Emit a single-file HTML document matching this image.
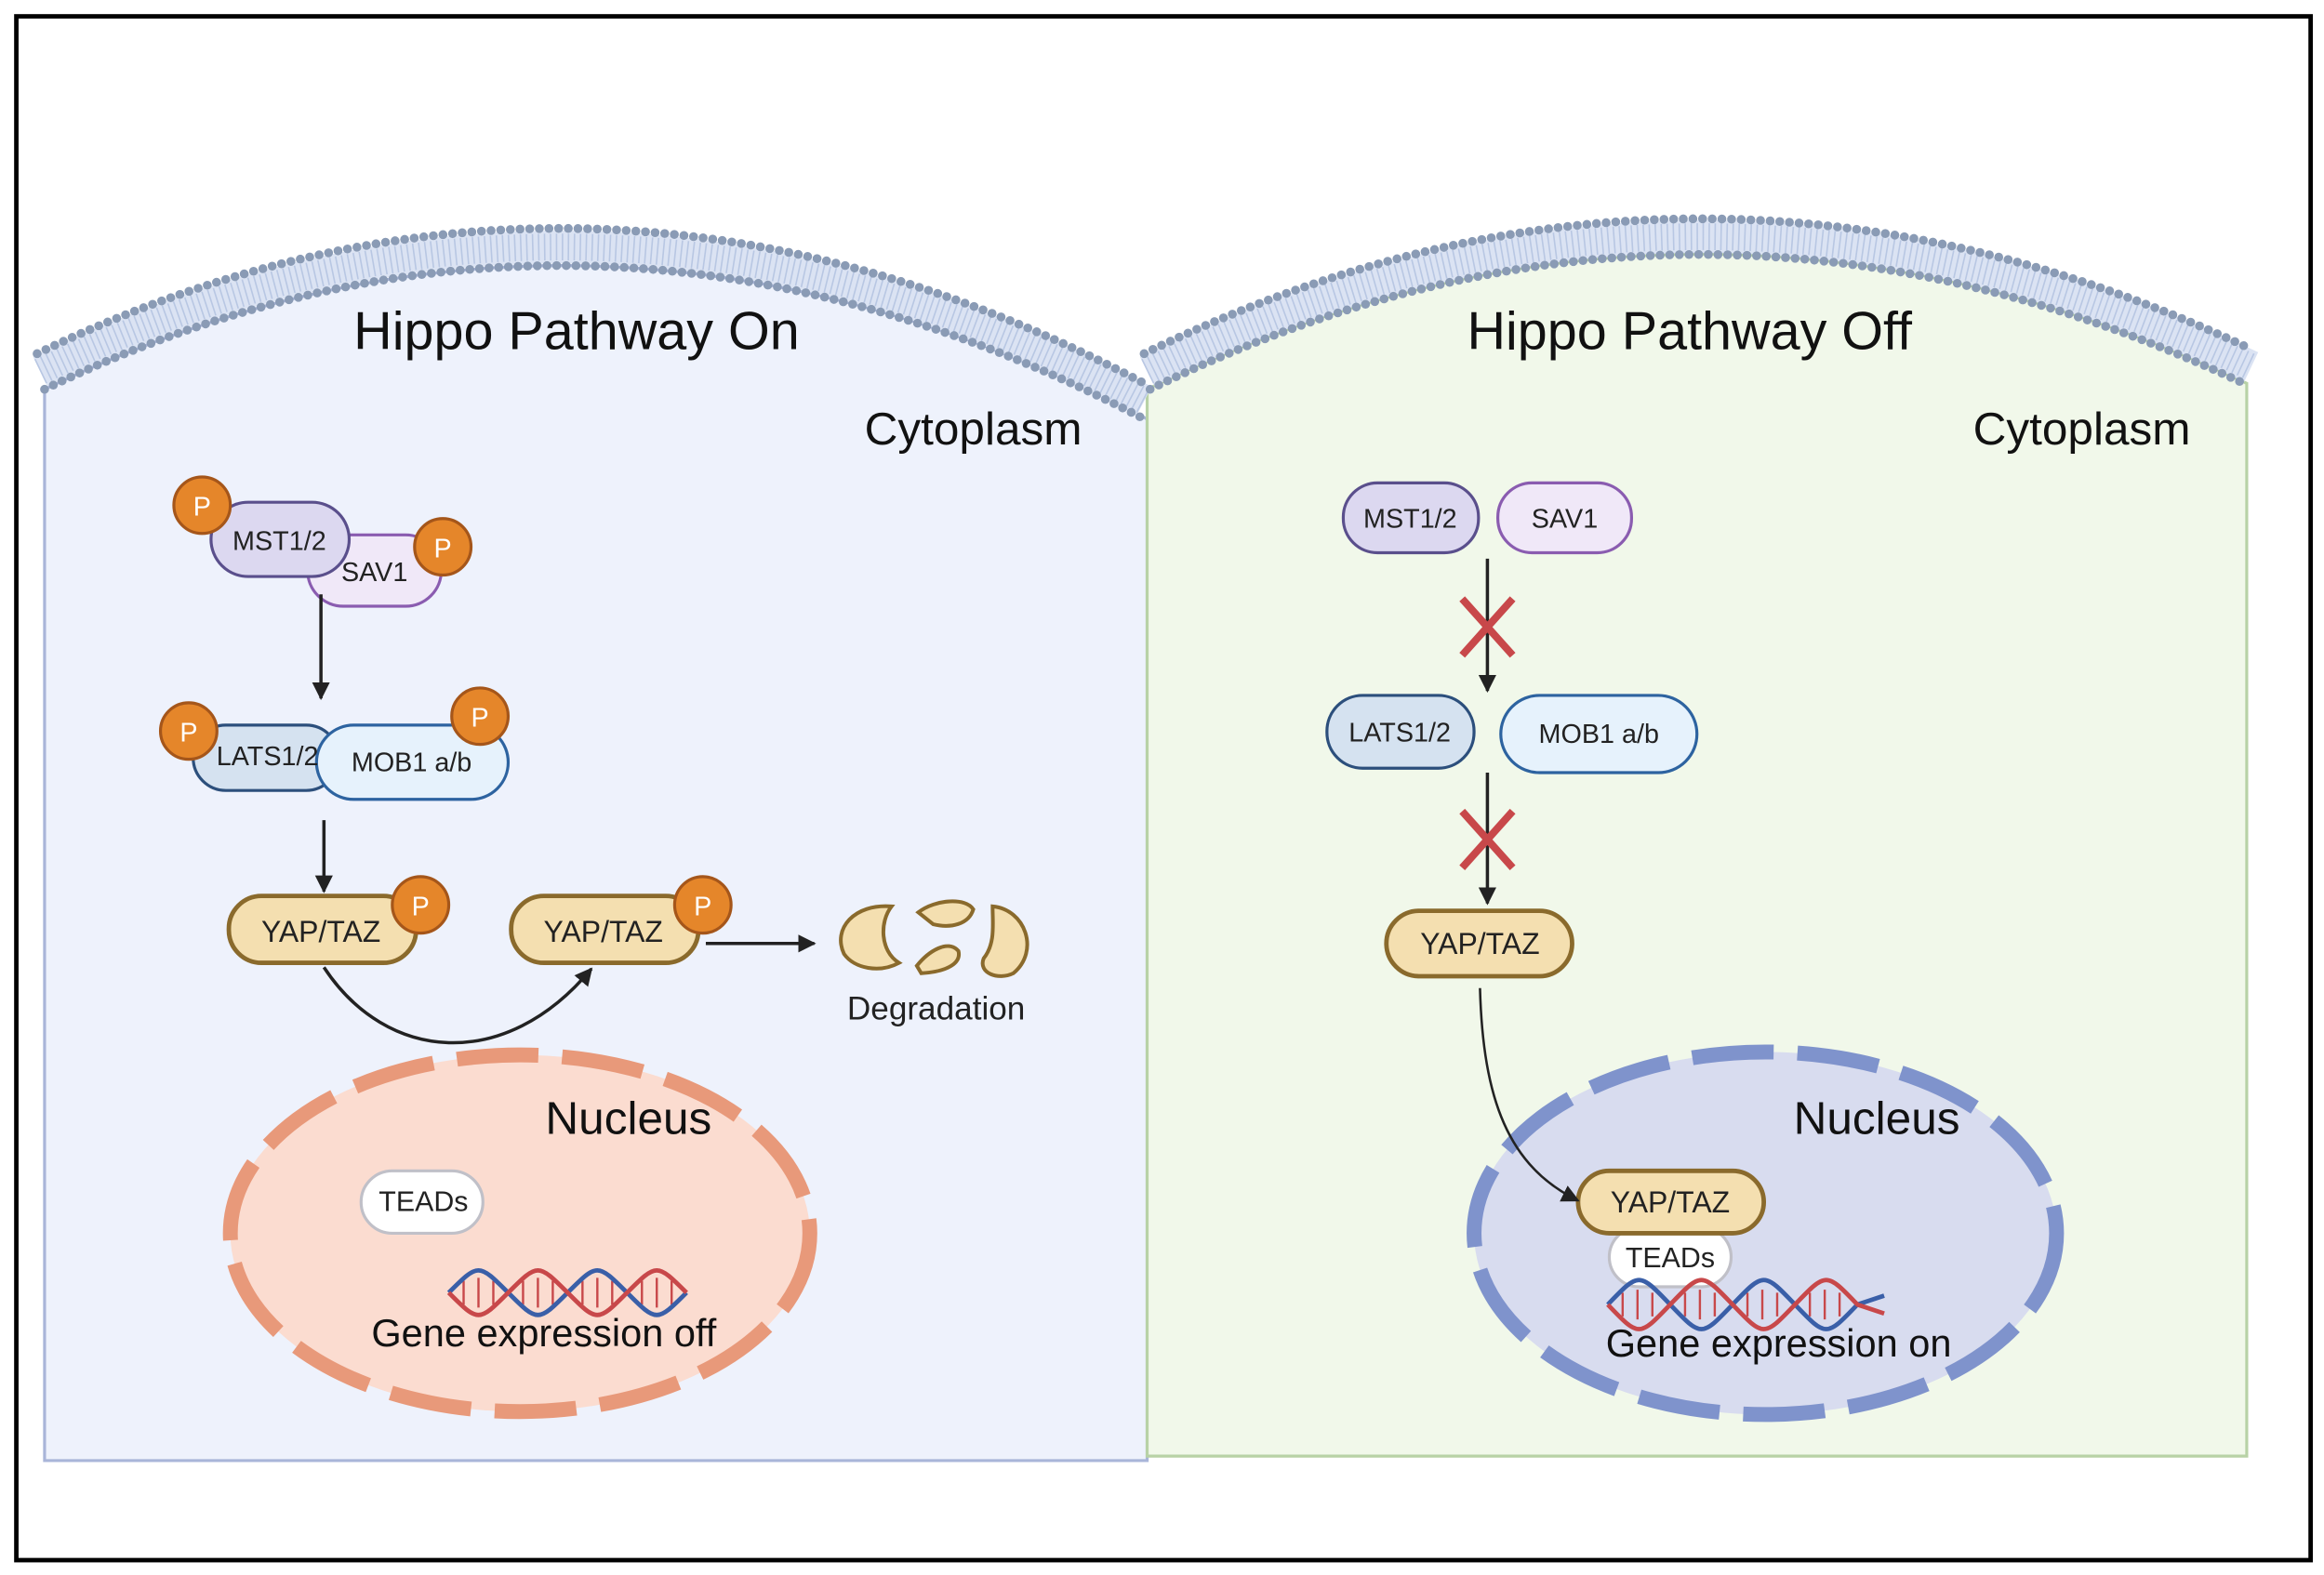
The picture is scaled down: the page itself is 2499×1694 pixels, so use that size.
<!DOCTYPE html>
<html><head><meta charset="utf-8"><style>html,body{margin:0;padding:0;background:#fff}svg{display:block}text{font-family:"Liberation Sans",sans-serif}</style></head><body>
<svg width="2499" height="1694" viewBox="0 0 1564 1060" preserveAspectRatio="none" xmlns="http://www.w3.org/2000/svg">
<defs>
<marker id="a" viewBox="0 0 10 10" refX="9" refY="5" markerWidth="12" markerHeight="12" markerUnits="userSpaceOnUse" orient="auto"><path d="M0,0 L10,5 L0,10 z" fill="#222"/></marker>
</defs>
<rect x="0" y="0" width="1564" height="1060" fill="#fff"/>
<rect x="11" y="11" width="1544" height="1039" fill="#fff" stroke="#000" stroke-width="3"/>
<path d="M30,262 Q395,86 772,282 L772,983 L30,983 Z" fill="#eef2fc" stroke="#a9b5d9" stroke-width="2"/>
<path d="M772,262 Q1140,82 1512,258 L1512,980 L772,980 Z" fill="#f1f8ea" stroke="#b8d2a6" stroke-width="2"/>
<g fill="none">
<path d="M27,250 Q395,73 770,270" stroke="#dbe3f3" stroke-width="22"/>
<path d="M27,250 Q395,73 770,270" stroke="#a9bbdc" stroke-width="18" stroke-dasharray="1 3" opacity="0.7"/>
<path d="M25,238 Q395,60 770,258" stroke="#8a9bb5" stroke-width="6" stroke-linecap="round" stroke-dasharray="0 6.5"/>
<path d="M30,262 Q395,86 770,282" stroke="#8a9bb5" stroke-width="6" stroke-linecap="round" stroke-dasharray="0 6.5"/>
<path d="M772,250 Q1140,70 1515,247" stroke="#dbe3f3" stroke-width="22"/>
<path d="M772,250 Q1140,70 1515,247" stroke="#a9bbdc" stroke-width="18" stroke-dasharray="1 3" opacity="0.7"/>
<path d="M770,238 Q1140,58 1515,235" stroke="#8a9bb5" stroke-width="6" stroke-linecap="round" stroke-dasharray="0 6.5"/>
<path d="M774,262 Q1140,82 1512,259" stroke="#8a9bb5" stroke-width="6" stroke-linecap="round" stroke-dasharray="0 6.5"/>
</g>
<text x="388" y="235" font-size="36" text-anchor="middle" fill="#111">Hippo Pathway On</text>
<text x="1137" y="235" font-size="36" text-anchor="middle" fill="#111">Hippo Pathway Off</text>
<text x="655" y="299" font-size="31" text-anchor="middle" fill="#111">Cytoplasm</text>
<text x="1401" y="299" font-size="31" text-anchor="middle" fill="#111">Cytoplasm</text>

<ellipse cx="350" cy="830" rx="195" ry="120" fill="#fbdcd0" stroke="#e8997a" stroke-width="10" stroke-dasharray="55 16"/>
<ellipse cx="1188" cy="830" rx="196" ry="122" fill="#d8dcef" stroke="#7f93cc" stroke-width="10" stroke-dasharray="55 16"/>
<text x="423" y="763" font-size="31" text-anchor="middle" fill="#111">Nucleus</text>
<text x="1263" y="763" font-size="31" text-anchor="middle" fill="#111">Nucleus</text>

<g font-size="18" text-anchor="middle" fill="#222">
<rect x="207" y="360" width="90" height="48" rx="24" fill="#f0e8f8" stroke="#8a5cb0" stroke-width="2"/>
<rect x="142" y="338" width="93" height="50" rx="25" fill="#dcd8f0" stroke="#5a4f8c" stroke-width="2"/>
<text x="188" y="370">MST1/2</text><text x="252" y="391">SAV1</text>
<rect x="130" y="488" width="98" height="44" rx="22" fill="#d5e2f0" stroke="#2c4f7c" stroke-width="2"/>
<rect x="213" y="488" width="129" height="50" rx="25" fill="#e6f2fc" stroke="#2d63a0" stroke-width="2"/>
<text x="180" y="515">LATS1/2</text><text x="277" y="519">MOB1 a/b</text>
<rect x="154" y="603" width="126" height="45" rx="22" fill="#f4dfb0" stroke="#8a6a2c" stroke-width="3"/>
<text x="216" y="634" font-size="20">YAP/TAZ</text>
<rect x="344" y="603" width="126" height="45" rx="22" fill="#f4dfb0" stroke="#8a6a2c" stroke-width="3"/>
<text x="406" y="634" font-size="20">YAP/TAZ</text>
<rect x="243" y="788" width="82" height="42" rx="21" fill="#fff" stroke="#c0c0c8" stroke-width="2"/>
<text x="285" y="815" font-size="19">TEADs</text>
<rect x="904" y="325" width="91" height="47" rx="23" fill="#dcd8f0" stroke="#5a4f8c" stroke-width="2"/>
<text x="949" y="355">MST1/2</text>
<rect x="1008" y="325" width="90" height="47" rx="23" fill="#f0e8f8" stroke="#8a5cb0" stroke-width="2"/>
<text x="1053" y="355">SAV1</text>
<rect x="893" y="468" width="99" height="49" rx="24" fill="#d5e2f0" stroke="#2c4f7c" stroke-width="2"/>
<text x="942" y="499">LATS1/2</text>
<rect x="1010" y="468" width="132" height="52" rx="26" fill="#e6f2fc" stroke="#2d63a0" stroke-width="2"/>
<text x="1076" y="500">MOB1 a/b</text>
<rect x="933" y="613" width="125" height="44" rx="22" fill="#f4dfb0" stroke="#8a6a2c" stroke-width="3"/>
<text x="996" y="642" font-size="20">YAP/TAZ</text>
<rect x="1083" y="826" width="82" height="40" rx="20" fill="#fff" stroke="#c0c0c8" stroke-width="2"/>
<text x="1124" y="853" font-size="19">TEADs</text>
<rect x="1062" y="788" width="125" height="42" rx="21" fill="#f4dfb0" stroke="#8a6a2c" stroke-width="3"/>
<text x="1124" y="816" font-size="20">YAP/TAZ</text>
</g>
<g font-size="18" text-anchor="middle" fill="#fff">
<circle cx="136" cy="340" r="19" fill="#e5862a" stroke="#a5561a" stroke-width="2"/><text x="136" y="347">P</text>
<circle cx="298" cy="368" r="19" fill="#e5862a" stroke="#a5561a" stroke-width="2"/><text x="298" y="375">P</text>
<circle cx="127" cy="492" r="19" fill="#e5862a" stroke="#a5561a" stroke-width="2"/><text x="127" y="499">P</text>
<circle cx="323" cy="482" r="19" fill="#e5862a" stroke="#a5561a" stroke-width="2"/><text x="323" y="489">P</text>
<circle cx="283" cy="609" r="19" fill="#e5862a" stroke="#a5561a" stroke-width="2"/><text x="283" y="616">P</text>
<circle cx="473" cy="609" r="19" fill="#e5862a" stroke="#a5561a" stroke-width="2"/><text x="473" y="616">P</text>
</g>
<g stroke="#222" stroke-width="2.2" fill="none" marker-end="url(#a)">
<line x1="216" y1="400" x2="216" y2="470"/>
<line x1="218" y1="552" x2="218" y2="600"/>
<path d="M218,651 C260,715 340,722 398,652"/>
<line x1="475" y1="635" x2="548" y2="635"/>
<line x1="1001" y1="376" x2="1001" y2="465"/>
<line x1="1001" y1="520" x2="1001" y2="608"/>
<path d="M996,665 C998,740 1015,785 1062,808" stroke-width="1.6"/>
</g>
<g stroke="#c8484a" stroke-width="5">
<line x1="984" y1="403" x2="1018" y2="441"/><line x1="1018" y1="403" x2="984" y2="441"/>
<line x1="984" y1="546" x2="1018" y2="584"/><line x1="1018" y1="546" x2="984" y2="584"/>
</g>
<g fill="#f4dfb0" stroke="#8a6a2c" stroke-width="2.5">
<path d="M600,610 C575,608 560,625 568,642 C575,652 592,655 605,648 C592,640 592,620 600,610 Z"/>
<path d="M618,614 C630,605 650,604 655,612 C652,622 640,625 628,622 Z"/>
<path d="M617,650 C625,640 638,632 645,640 C647,648 638,654 620,655 Z"/>
<path d="M668,610 C690,612 700,640 682,655 C672,660 658,655 662,645 C670,635 668,622 668,610 Z"/>
</g>
<text x="630" y="686" font-size="22" text-anchor="middle" fill="#222">Degradation</text>
<g fill="none" stroke-width="3">
<g stroke="#c8484a" stroke-width="1.5">
<path d="M312,862 v16 M322,860 v20 M332,862 v16 M352,862 v16 M362,860 v20 M372,862 v16 M392,862 v16 M402,860 v20 M412,862 v16 M432,862 v16 M442,860 v20 M452,862 v16"/>
</g>
<path d="M302,870 C322,850 322,850 342,870 S362,890 382,870 S402,850 422,870 S442,890 462,870" stroke="#3a5fa8"/>
<path d="M302,870 C322,890 322,890 342,870 S362,850 382,870 S402,890 422,870 S442,850 462,870" stroke="#c8484a"/>
</g>
<g fill="none" stroke-width="3">
<g stroke="#c8484a" stroke-width="1.5">
<path d="M1092,870 v16 M1102,868 v20 M1112,870 v16 M1134,870 v16 M1144,868 v20 M1154,870 v16 M1176,870 v16 M1186,868 v20 M1196,870 v16 M1218,870 v16 M1228,868 v20 M1238,870 v16"/>
</g>
<path d="M1082,878 C1103,856 1103,856 1124,878 S1145,900 1166,878 S1187,856 1208,878 S1229,900 1250,878 L1268,872" stroke="#3a5fa8"/>
<path d="M1082,878 C1103,900 1103,900 1124,878 S1145,856 1166,878 S1187,900 1208,878 S1229,856 1250,878 L1268,884" stroke="#c8484a"/>
</g>
<text x="366" y="906" font-size="26" text-anchor="middle" fill="#111">Gene expression off</text>
<text x="1197" y="913" font-size="26" text-anchor="middle" fill="#111">Gene expression on</text>
</svg>
</body></html>
